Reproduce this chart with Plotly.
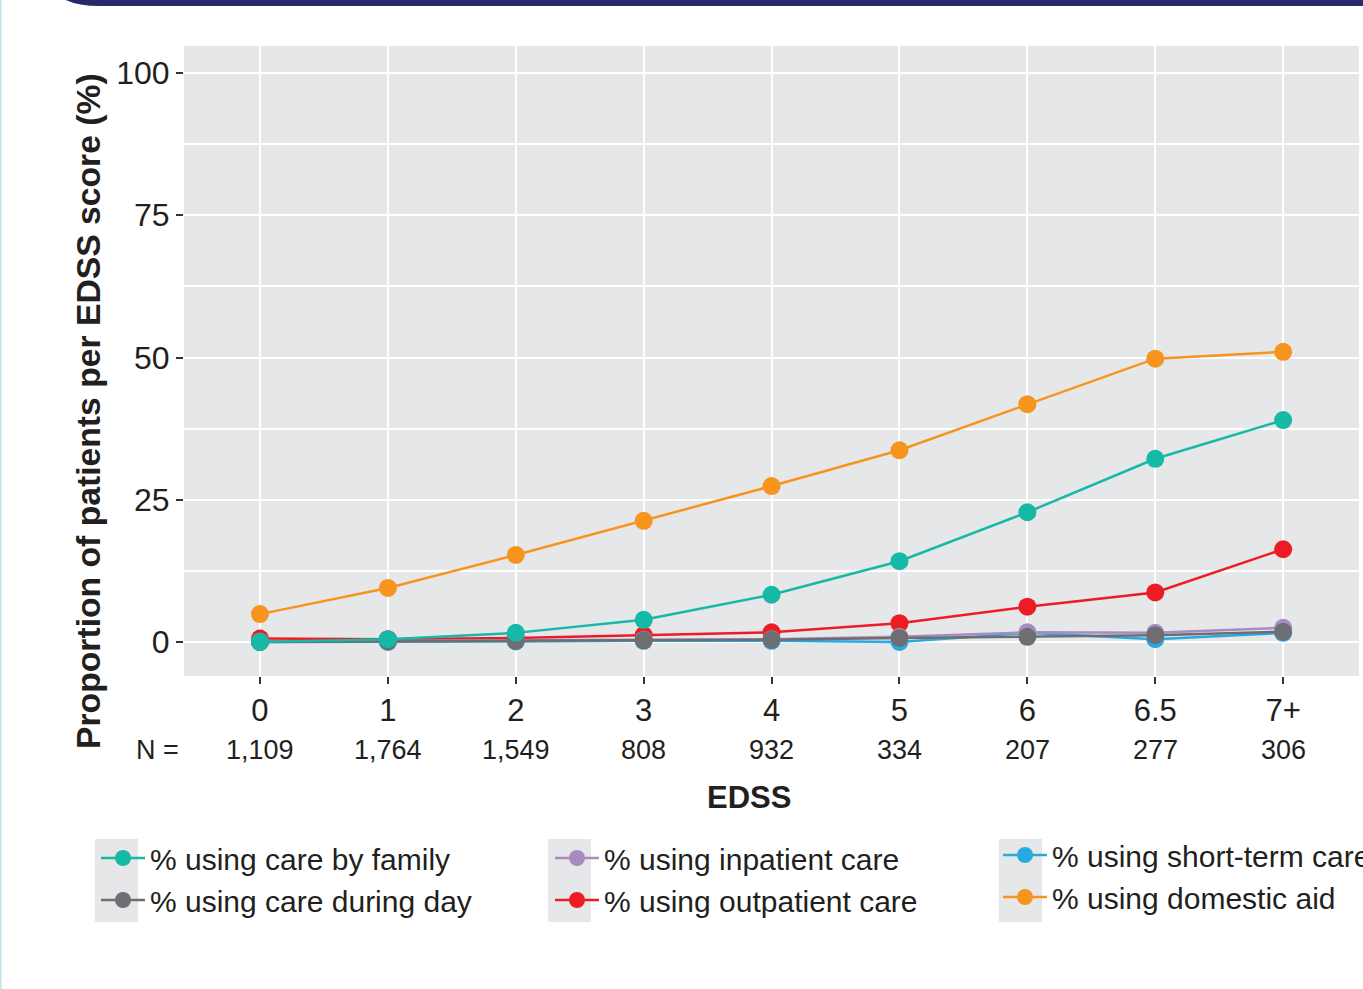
import plotly.graph_objects as go

categories = ["0", "1", "2", "3", "4", "5", "6", "6.5", "7+"]
n_values = ["1,109", "1,764", "1,549", "808", "932", "334", "207", "277", "306"]

care_by_family = [0.0, 0.5, 1.6, 3.9, 8.3, 14.2, 22.8, 32.2, 39.0]
care_during_day = [0.0, 0.1, 0.2, 0.3, 0.4, 0.7, 0.9, 1.2, 1.8]
inpatient_care = [0.1, 0.2, 0.3, 0.4, 0.5, 0.9, 1.7, 1.6, 2.5]
outpatient_care = [0.6, 0.5, 0.7, 1.2, 1.7, 3.3, 6.2, 8.7, 16.3]
short_term_care = [0.0, 0.0, 0.1, 0.2, 0.2, 0.0, 1.6, 0.5, 1.6]
domestic_aid = [4.9, 9.5, 15.3, 21.3, 27.4, 33.7, 41.8, 49.8, 51.0]

xi = list(range(len(categories)))

W, H = 1363, 989
ML, MR, MT, MB = 184, 4, 46, 313
PW = W - ML - MR
PH = H - MT - MB

def px_x(p):
    return (p - ML) / PW

def px_y(p):
    return (H - MB - p) / PH

FONT = "Liberation Sans, Arial, sans-serif"
TXT = "#231F20"

series = [
    # (name, values, color, legend, rank) in drawing order
    ("% using outpatient care", outpatient_care, "#ED1C24", "legend2", 2),
    ("% using short-term care", short_term_care, "#27AAE1", "legend3", 1),
    ("% using inpatient care", inpatient_care, "#A78BC2", "legend2", 1),
    ("% using care during day", care_during_day, "#6D6E71", "legend", 2),
    ("% using care by family", care_by_family, "#15B9A6", "legend", 1),
    ("% using domestic aid", domestic_aid, "#F7941E", "legend3", 2),
]

fig = go.Figure()
for name, vals, col, leg, rank in series:
    fig.add_trace(go.Scatter(
        x=xi, y=vals, name=name, mode="lines+markers",
        line=dict(color=col, width=2.5),
        marker=dict(color=col, size=18),
        legend=leg, legendrank=rank,
    ))

legfont = dict(family=FONT, size=30, color=TXT)
legcommon = dict(font=legfont, bgcolor="rgba(0,0,0,0)", orientation="v",
                 xanchor="left", yanchor="top", itemwidth=44,
                 traceorder="normal", tracegroupgap=0)
fig.update_layout(
    legend=dict(x=px_x(96), y=px_y(832), **legcommon),
    legend2=dict(x=px_x(550), y=px_y(832), **legcommon),
    legend3=dict(x=px_x(998), y=px_y(829), **legcommon),
)

shapes = []
# grey key boxes
for x0 in (95, 548, 999):
    shapes.append(dict(type="rect", xref="paper", yref="paper",
                       x0=px_x(x0), x1=px_x(x0 + 43), y0=px_y(922), y1=px_y(839),
                       fillcolor="#E6E7E8", line=dict(width=0), layer="below"))
# top navy band
xa, xb = px_x(62), px_x(1370)
ya, yb = px_y(-2), px_y(6)
xr = px_x(100)
shapes.append(dict(type="path", xref="paper", yref="paper",
                   path=f"M {xa},{ya} L {xb},{ya} L {xb},{yb} L {xr},{yb} Q {px_x(75)},{yb} {xa},{ya} Z",
                   fillcolor="#262A6B", line=dict(width=0), layer="below"))
# left thin line
shapes.append(dict(type="line", xref="paper", yref="paper",
                   x0=px_x(0.8), x1=px_x(0.8), y0=px_y(0), y1=px_y(989),
                   line=dict(color="#BFE3EF", width=1.5), layer="below"))

annotations = []
for i, n in zip(xi, n_values):
    annotations.append(dict(x=i, y=px_y(750), xref="x", yref="paper", text=n,
                            showarrow=False, font=dict(family=FONT, size=27, color=TXT),
                            xanchor="center", yanchor="middle"))
annotations.append(dict(x=px_x(181), y=px_y(750), xref="paper", yref="paper", text="N =",
                        showarrow=False, font=dict(family=FONT, size=27, color=TXT),
                        xanchor="right", yanchor="middle"))
annotations.append(dict(x=px_x(749), y=px_y(797), xref="paper", yref="paper", text="<b>EDSS</b>",
                        showarrow=False, font=dict(family=FONT, size=31, color=TXT),
                        xanchor="center", yanchor="middle"))
annotations.append(dict(x=px_x(88), y=px_y(411), xref="paper", yref="paper",
                        text="<b>Proportion of patients per EDSS score (%)</b>",
                        textangle=-90, showarrow=False,
                        font=dict(family=FONT, size=33.7, color=TXT),
                        xanchor="center", yanchor="middle"))

fig.update_layout(
    width=W, height=H,
    margin=dict(l=ML, r=MR, t=MT, b=MB, autoexpand=False),
    paper_bgcolor="white", plot_bgcolor="#E6E7E8",
    shapes=shapes, annotations=annotations,
    showlegend=True,
    xaxis=dict(range=[-0.594, 8.593], tickmode="array", tickvals=xi, ticktext=categories,
               showgrid=True, gridcolor="white", gridwidth=2, zeroline=False,
               ticks="outside", ticklen=7, tickwidth=2, tickcolor="#333333",
               tickfont=dict(family=FONT, size=31, color=TXT), showline=False),
    yaxis=dict(range=[-5.98, 104.75], tickmode="array", tickvals=[0, 25, 50, 75, 100],
               showgrid=True, gridcolor="white", gridwidth=2, zeroline=False,
               minor=dict(tickvals=[12.5, 37.5, 62.5, 87.5], showgrid=True, gridcolor="white", gridwidth=1.5, ticks=""),
               ticks="outside", ticklen=7, tickwidth=2, tickcolor="#333333",
               tickfont=dict(family=FONT, size=32, color=TXT), showline=False),
)

fig.write_html("out.html", config={"displayModeBar": False},
               post_script="document.body.style.margin='0';document.body.style.overflow='hidden';")
